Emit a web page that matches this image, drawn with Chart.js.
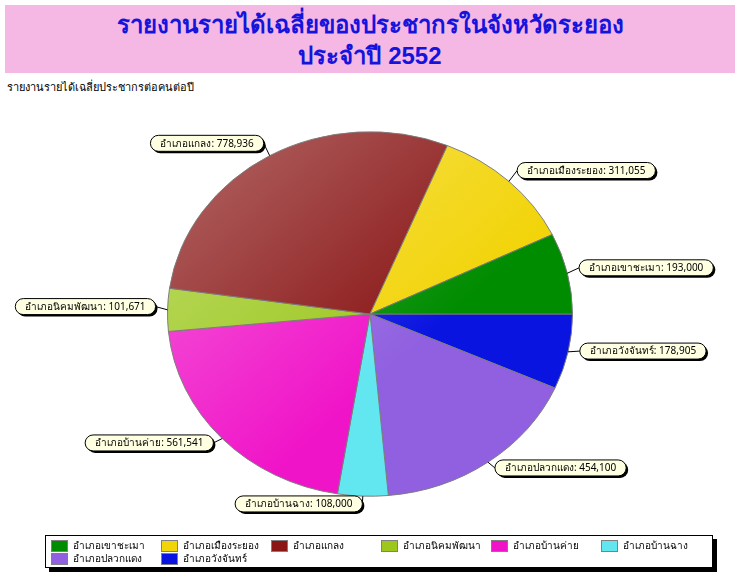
<!DOCTYPE html>
<html>
<head>
<meta charset="utf-8">
<script src="https://cdn.jsdelivr.net/npm/chart.js@4.4.0/dist/chart.umd.min.js"></script>
<style>
  html, body { margin: 0; padding: 0; background: #ffffff; }
  body { width: 740px; height: 582px; position: relative; overflow: hidden; font-family: "Noto Sans", "DejaVu Sans", sans-serif; }
  #titleBox { position: absolute; left: 5px; top: 5px; width: 730px; height: 68px; background: #F5B7E4; text-align: center; color: #1414DC; font-weight: bold; font-family: "Liberation Sans", "DejaVu Sans", sans-serif; }
  #titleBox .l1 { position: absolute; left: 0; right: 0; top: 5px; font-size: 24px; line-height: 30px; }
  #titleBox .l2 { position: absolute; left: 0; right: 0; top: 36px; font-size: 24px; line-height: 30px; }
  #subtitle { position: absolute; left: 7px; top: 78px; font-size: 11px; color: #000; }
  #chartWrap { position: absolute; left: 0; top: 0; width: 740px; height: 582px; }
  #legend { position: absolute; left: 45px; top: 535px; width: 666px; height: 31px; border: 1px solid #000; background: #fff; box-shadow: 4px 4px 0 #000; }
  .li { position: absolute; height: 13px; font-size: 10px; line-height: 13px; color: #000; white-space: nowrap; }
  .li .sw { position: absolute; left: 0; top: 1px; width: 15px; height: 10px; border: 1px solid #808080; }
  .li .tx { position: absolute; left: 22px; top: 0; }
</style>
</head>
<body>
<div id="titleBox"><div class="l1">รายงานรายได้เฉลี่ยของประชากรในจังหวัดระยอง</div><div class="l2">ประจำปี 2552</div></div>
<div id="subtitle">รายงานรายได้เฉลี่ยประชากรต่อคนต่อปี</div>
<div id="chartWrap"><canvas id="c" width="740" height="582"></canvas></div>
<div id="legend"></div>
<script>
// ---- data (legend order) ----
const districts = ["อำเภอเขาชะเมา", "อำเภอเมืองระยอง", "อำเภอแกลง", "อำเภอนิคมพัฒนา", "อำเภอบ้านค่าย", "อำเภอบ้านฉาง", "อำเภอปลวกแดง", "อำเภอวังจันทร์"];
const incomes = [193000, 311055, 778936, 101671, 561541, 108000, 454100, 178905];
const sliceColors = ["#008C00", "#F2D40A", "#8A1616", "#9CC81E", "#F014C8", "#62E6F0", "#9060E0", "#0A14E0"];

// Pie in reference runs counter-clockwise from east; Chart.js runs clockwise -> reverse.
const chartLabels = districts.slice().reverse();
const chartValues = incomes.slice().reverse();
const chartColors = sliceColors.slice().reverse();

const Y_SCALE = 0.9;

function lighten(hex, f) {
  const n = parseInt(hex.slice(1), 16);
  let r = (n >> 16) & 255, g = (n >> 8) & 255, b = n & 255;
  r = Math.round(r + (255 - r) * f); g = Math.round(g + (255 - g) * f); b = Math.round(b + (255 - b) * f);
  return `rgb(${r},${g},${b})`;
}

const ellipsePlugin = {
  id: 'ellipse',
  beforeDatasetsDraw(chart) {
    const arc = chart.getDatasetMeta(0).data[0];
    const ctx = chart.ctx;
    ctx.save();
    ctx.translate(arc.x, arc.y);
    ctx.scale(1, Y_SCALE);
    ctx.translate(-arc.x, -arc.y);
  },
  afterDatasetsDraw(chart) {
    chart.ctx.restore();
  }
};

const calloutPlugin = {
  id: 'callouts',
  afterDraw(chart) {
    const ctx = chart.ctx;
    const meta = chart.getDatasetMeta(0);
    const ds = chart.data.datasets[0];
    ctx.save();
    ctx.font = '10px "Noto Sans", "DejaVu Sans", sans-serif';
    ctx.textBaseline = 'middle';
    meta.data.forEach((arc, i) => {
      const p = arc.getProps(['x', 'y', 'startAngle', 'endAngle', 'outerRadius'], true);
      const mid = (p.startAngle + p.endAngle) / 2;
      const c = Math.cos(mid), s = Math.sin(mid);
      const R = p.outerRadius;
      const ex = p.x + R * c, ey = p.y + R * s * Y_SCALE;
      const ax = p.x + (R + 12) * c, ay = p.y + (R + 12) * s * Y_SCALE - 3;
      const text = chart.data.labels[i] + ': ' + ds.data[i].toLocaleString('en-US');
      const tw = ctx.measureText(text).width;
      const h = 16, w = tw + 20;
      const left = c >= 0 ? ax : ax - w;
      const top = ay - h / 2;
      // leader
      ctx.strokeStyle = '#000';
      ctx.lineWidth = 1;
      ctx.beginPath();
      ctx.moveTo(ex, ey);
      ctx.lineTo(c >= 0 ? left : left + w, ay);
      ctx.stroke();
      const pill = (x0, y0) => {
        const r = h / 2;
        ctx.beginPath();
        ctx.moveTo(x0 + r, y0);
        ctx.lineTo(x0 + w - r, y0);
        ctx.arc(x0 + w - r, y0 + r, r, -Math.PI / 2, Math.PI / 2);
        ctx.lineTo(x0 + r, y0 + h);
        ctx.arc(x0 + r, y0 + r, r, Math.PI / 2, Math.PI * 1.5);
        ctx.closePath();
      };
      pill(left + 2, top + 2);
      ctx.fillStyle = '#000';
      ctx.fill();
      pill(left, top);
      ctx.fillStyle = '#FFFFE1';
      ctx.fill();
      ctx.stroke();
      ctx.fillStyle = '#000';
      ctx.textAlign = 'left';
      ctx.fillText(text, left + 10, top + h / 2 + 0.5);
    });
    ctx.restore();
  }
};

new Chart(document.getElementById('c'), {
  type: 'pie',
  data: {
    labels: chartLabels,
    datasets: [{
      data: chartValues,
      backgroundColor: (context) => {
        const base = chartColors[context.dataIndex];
        const area = context.chart.chartArea;
        if (!area) return base;
        const g = context.chart.ctx.createLinearGradient(area.left, area.top, area.right, area.bottom);
        g.addColorStop(0, lighten(base, 0.35));
        g.addColorStop(0.6, base);
        g.addColorStop(1, base);
        return g;
      },
      borderColor: '#7A7A7A',
      borderWidth: 1,
      hoverOffset: 0
    }]
  },
  options: {
    responsive: false,
    animation: false,
    rotation: 90,
    layout: { padding: { left: 167, right: 167, top: 111, bottom: 65 } },
    plugins: { legend: { display: false }, tooltip: { enabled: false }, title: { display: false } }
  },
  plugins: [ellipsePlugin, calloutPlugin]
});

// legend (6 columns, original order)
const legendEl = document.getElementById('legend');
districts.forEach((name, i) => {
  const col = i % 6, row = Math.floor(i / 6);
  const d = document.createElement('div');
  d.className = 'li';
  d.style.left = (5 + col * 110) + 'px';
  d.style.top = (3 + row * 13) + 'px';
  d.innerHTML = '<span class="sw" style="background:' + sliceColors[i] + '"></span><span class="tx">' + name + '</span>';
  legendEl.appendChild(d);
});
</script>
</body>
</html>
